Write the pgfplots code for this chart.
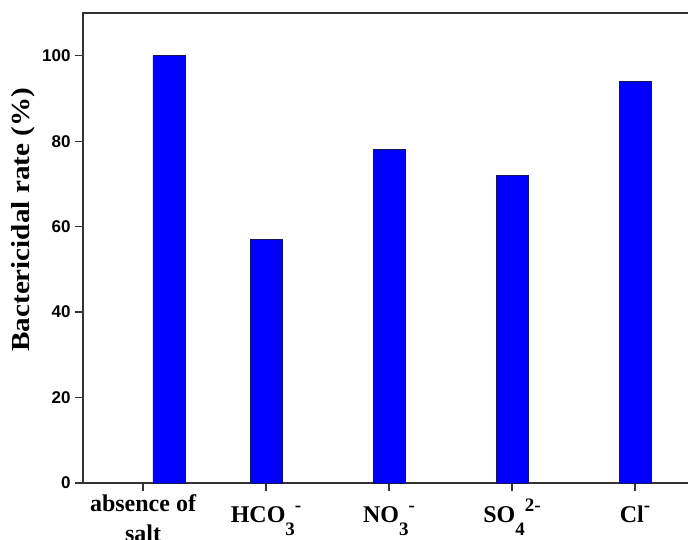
\documentclass[border=0pt]{standalone}
\usepackage{pgfplots}
\pgfplotsset{compat=1.18}
\usepackage{fontspec}
\setmainfont{Liberation Serif}
\setsansfont{Liberation Sans}

% ion charges: subscript first, superscript set after it
\newcommand\sub[1]{\raisebox{-0.55em}{\fontsize{19}{19}\selectfont #1}}
\newcommand\sups[1]{\raisebox{0.42em}{\fontsize{19}{19}\selectfont #1}}

\definecolor{barblue}{RGB}{0,0,255}
\definecolor{baredge}{RGB}{20,20,90}

\begin{document}
\begin{tikzpicture}
\path[use as bounding box] (0,0) rectangle (688pt,539pt);
\begin{axis}[
  at={(83pt,56pt)}, anchor=south west,
  scale only axis, width=613.5pt, height=470pt,
  xmin=-0.488, xmax=4.5, ymin=0, ymax=110,
  tick pos=left, tick align=outside,
  major tick length=8pt,
  axis line style={line width=1.3pt, black!80},
  every tick/.style={line width=1.2pt, black!80},
  xtick={0,1,2,3,4},
  xticklabels={{\raisebox{11pt}{\begin{tabular}[t]{@{}c@{}}absence of\\[6pt]salt\end{tabular}}},
               {HCO\sub{3}\sups{-}},
               {NO\sub{3}\sups{-}},
               {SO\sub{4}\sups{2-}},
               {Cl\sups{-}}},
  xticklabel style={font=\fontsize{24}{24}\selectfont\bfseries, anchor=base, yshift=-31pt},
  ytick={0,20,40,60,80,100},
  yticklabel style={font=\fontsize{17}{17}\selectfont\sffamily\bfseries, xshift=-1pt},
  /pgf/number format/assume math mode=true,
  ylabel={\scalebox{1.12}[1]{Bactericidal rate (\%)}},
  ylabel style={font=\fontsize{26}{26}\selectfont\bfseries, at={(axis description cs:-0.0978,0.56)}, anchor=center},
]
\addplot[ybar, bar width=32pt, fill=barblue, draw=baredge, line width=0.6pt]
  coordinates {(0.21,100) (1,57) (2,78) (3,72) (4,94)};
\end{axis}
\end{tikzpicture}
\end{document}
